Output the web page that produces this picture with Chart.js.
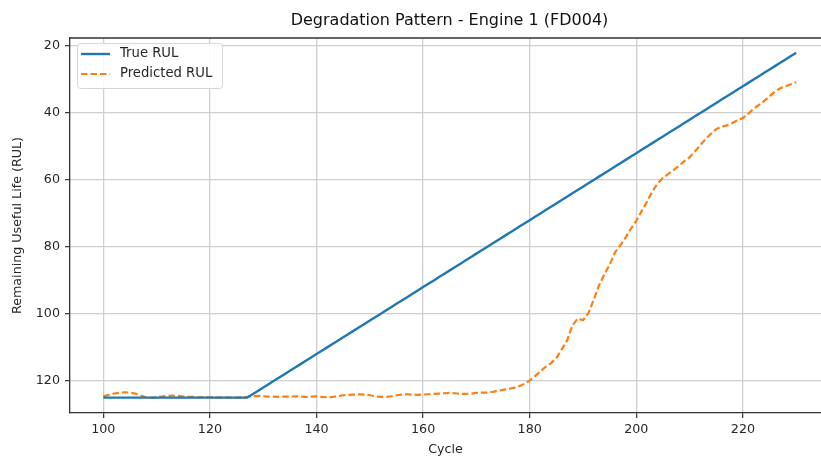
<!DOCTYPE html>
<html>
<head>
<meta charset="utf-8">
<script src="https://cdn.jsdelivr.net/npm/chart.js@4/dist/chart.umd.min.js"></script>
<style>
  html, body { margin: 0; padding: 0; background: #ffffff; }
  #c { display: block; }
</style>
</head>
<body>
<canvas id="c" width="821" height="457"></canvas>
<script>
// ---- data ----
const chartTitle = "Degradation Pattern - Engine 1 (FD004)";
const xTitle = "Cycle";
const yTitle = "Remaining Useful Life (RUL)";
const seriesNames = ["True RUL", "Predicted RUL"];

const cycles = [];
for (let c = 100; c <= 230; c++) cycles.push(c);

const trueRUL = [
  125,125,125,125,125,125,125,125,125,125, // 100-109
  125,125,125,125,125,125,125,125,125,125, // 110-119
  125,125,125,125,125,125,125,125,124,123, // 120-129
  122,121,120,119,118,117,116,115,114,113, // 130-139
  112,111,110,109,108,107,106,105,104,103, // 140-149
  102,101,100,99,98,97,96,95,94,93,        // 150-159
  92,91,90,89,88,87,86,85,84,83,           // 160-169
  82,81,80,79,78,77,76,75,74,73,           // 170-179
  72,71,70,69,68,67,66,65,64,63,           // 180-189
  62,61,60,59,58,57,56,55,54,53,           // 190-199
  52,51,50,49,48,47,46,45,44,43,           // 200-209
  42,41,40,39,38,37,36,35,34,33,           // 210-219
  32,31,30,29,28,27,26,25,24,23,           // 220-229
  22                                       // 230
];

const predictedRUL = [
  124.6,124.2,123.8,123.6,123.4,123.5,123.8,124.4,124.9,125.1, // 100-109
  124.9,124.7,124.5,124.4,124.5,124.7,124.8,124.8,124.9,124.8, // 110-119
  124.9,125.0,124.9,124.9,125.0,125.0,124.9,124.8,124.6,124.5, // 120-129
  124.6,124.7,124.7,124.8,124.7,124.7,124.6,124.7,124.8,124.7, // 130-139
  124.6,124.8,124.9,124.8,124.6,124.3,124.2,124.1,124.0,124.1, // 140-149
  124.3,124.6,124.8,124.8,124.6,124.3,124.1,124.0,124.1,124.2, // 150-159
  124.1,124.0,123.9,123.8,123.7,123.6,123.7,123.9,123.9,123.8, // 160-169
  123.6,123.5,123.5,123.3,123.0,122.7,122.4,122.1,121.6,120.9, // 170-179
  119.9,118.6,117.2,115.8,114.7,113.2,110.6,108.0,103.5,101.4, // 180-189
  101.9,99.8,95.8,91.5,88.2,85.3,81.6,79.5,77.2,74.5,          // 190-199
  72.2,69.3,66.5,63.5,61.0,59.4,58.2,57.0,55.8,54.4,           // 200-209
  53.2,51.5,49.6,47.8,46.2,44.8,44.1,43.7,43.0,42.2,           // 210-219
  41.5,40.2,38.8,37.6,36.4,35.0,33.6,32.6,32.0,31.4,           // 220-229
  30.8                                                         // 230
];

const xTicks = [100, 120, 140, 160, 180, 200, 220];
const yTicks = [20, 40, 60, 80, 100, 120];

// ---- styling ----
const FONT = "DejaVu Sans";
const TEXT = "#262626";
const SPINE = "#333333";
const GRID = "#cfcfcf";
const FS = 12.7;
const LEGEND_FS = 13.2;

const framePlugin = {
  id: "frame",
  afterDraw(chart) {
    const { ctx, chartArea: a } = chart;
    ctx.save();
    ctx.strokeStyle = SPINE;
    ctx.lineWidth = 1.3;
    ctx.beginPath();
    ctx.moveTo(a.left, a.top);
    ctx.lineTo(a.right + 20, a.top);
    ctx.stroke();
    // title
    ctx.fillStyle = "#111";
    ctx.font = "16px '" + FONT + "'";
    ctx.textAlign = "center";
    ctx.textBaseline = "middle";
    ctx.fillText(chartTitle, 449.5, 20.5);
    // legend
    const lx = 77, ly = 43, lw = 145, lh = 45;
    ctx.fillStyle = "rgba(255,255,255,0.85)";
    ctx.strokeStyle = "#d6d6d6";
    ctx.lineWidth = 1;
    ctx.beginPath();
    ctx.roundRect(lx + 0.5, ly + 0.5, lw, lh, 3);
    ctx.fill();
    ctx.stroke();
    ctx.font = LEGEND_FS + "px '" + FONT + "'";
    ctx.textAlign = "left";
    ctx.textBaseline = "middle";
    chart.data.datasets.forEach((ds, i) => {
      const yy = ly + 11 + i * 20;
      ctx.strokeStyle = ds.borderColor;
      ctx.lineWidth = ds.borderWidth;
      ctx.setLineDash(ds.borderDash || []);
      ctx.beginPath();
      ctx.moveTo(81, yy);
      ctx.lineTo(110, yy);
      ctx.stroke();
      ctx.setLineDash([]);
      ctx.fillStyle = TEXT;
      ctx.fillText(ds.label, 120, yy);
    });
    ctx.restore();
  }
};

new Chart(document.getElementById("c"), {
  type: "line",
  data: {
    datasets: [
      {
        label: seriesNames[0],
        data: cycles.map((c, i) => ({ x: c, y: trueRUL[i] })),
        borderColor: "#1f77b4",
        borderWidth: 2.4,
        pointRadius: 0,
        tension: 0,
        fill: false
      },
      {
        label: seriesNames[1],
        data: cycles.map((c, i) => ({ x: c, y: predictedRUL[i] })),
        borderColor: "#ff7f0e",
        borderWidth: 2.2,
        borderDash: [6.5, 3],
        pointRadius: 0,
        tension: 0,
        fill: false
      }
    ]
  },
  options: {
    responsive: false,
    animation: false,
    devicePixelRatio: 1,
    layout: { padding: { top: 38, left: 0, right: 0, bottom: 0 } },
    plugins: { legend: { display: false }, title: { display: false }, tooltip: { enabled: false } },
    scales: {
      x: {
        type: "linear",
        min: 93.75,
        max: 234.65,
        afterBuildTicks: s => { s.ticks = xTicks.map(v => ({ value: v })); },
        afterFit: s => { s.height = 44; },
        ticks: { color: TEXT, font: { family: FONT, size: FS }, padding: 4, maxRotation: 0 },
        grid: { color: GRID, lineWidth: 1.3, tickLength: 5, tickColor: SPINE, tickWidth: 1.2 },
        border: { display: true, color: SPINE, width: 1.3 },
        title: { display: true, text: xTitle, color: TEXT, font: { family: FONT, size: FS }, padding: { top: 0, bottom: 0 } }
      },
      y: {
        type: "linear",
        reverse: true,
        min: 17.6,
        max: 129.6,
        afterBuildTicks: s => { s.ticks = yTicks.map(v => ({ value: v })); },
        afterFit: s => { s.width = 70; },
        ticks: { color: TEXT, font: { family: FONT, size: FS }, padding: 5 },
        grid: { color: GRID, lineWidth: 1.3, tickLength: 5, tickColor: SPINE, tickWidth: 1.2 },
        border: { display: true, color: SPINE, width: 1.3 },
        title: { display: true, text: yTitle, color: TEXT, font: { family: FONT, size: FS }, padding: { top: 10, bottom: 0 } }
      }
    }
  },
  plugins: [framePlugin]
});
</script>
</body>
</html>
